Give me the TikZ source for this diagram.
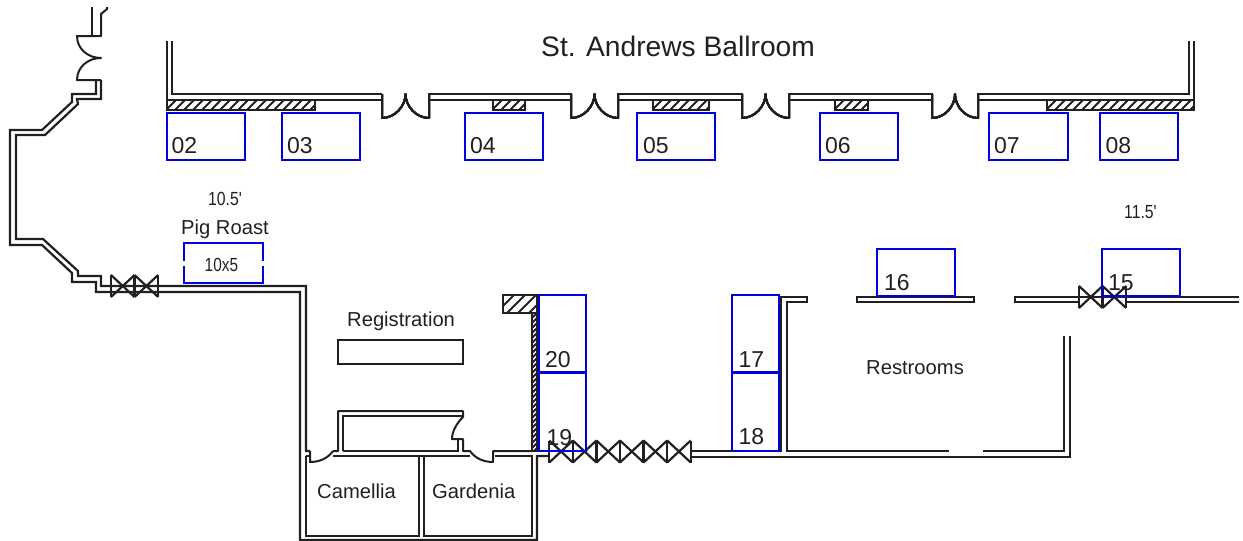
\documentclass[tikz,border=0pt]{standalone}
\usepackage{fontspec}
\setmainfont{Liberation Sans}
\definecolor{wallink}{HTML}{231F20}
\tikzset{
	wall/.style={draw=wallink,line width=2.2pt,line join=miter},
	door/.style={wall,line width=2pt,line join=round},
	booth/.style={draw=blue!90!black,line width=2.6pt},
	hatchline/.style={draw=wallink,line width=2pt},
	lbl/.style={anchor=base west,inner sep=0pt,text=wallink,font=\fontsize{20.2}{22}\selectfont},
	num/.style={lbl,font=\fontsize{23}{25}\selectfont},
	narrow/.style={lbl,font=\fontsize{19}{21}\selectfont}
}
% x1, y1, x2, y2, period of the hatching
\newcommand{\hatchrect}[5]{
	\begin{scope}
		\clip (#1,#2) rectangle (#3,#4);
		\foreach \d in {0,#5,...,200}
			\draw [hatchline] (#1+\d-#4+#2,#4) -- (#1+\d,#2);
	\end{scope}
	\draw [wall] (#1,#2) rectangle (#3,#4);
}
\begin{document}
\begin{tikzpicture}[x=1pt,y=-1pt]
	\useasboundingbox (0,0) rectangle (1243,541);
	% ballroom wall
	\draw [wall] (172,41) -- (172,94) -- (382,94);
	\draw [wall] (167,41) -- (167,100);
	\draw [wall] (315,100) -- (382,100);
	\draw [wall] (429,100) -- (429,94) -- (571,94) -- (571,100) -- cycle;
	\draw [wall] (618,100) -- (618,94) -- (742,94) -- (742,100) -- cycle;
	\draw [wall] (789,100) -- (789,94) -- (932,94) -- (932,100) -- cycle;
	\draw [wall] (978,100) -- (978,94) -- (1189,94) -- (1189,41);
	\draw [wall] (1194,41) -- (1194,100);
	\draw [wall] (978,100) -- (1047,100);
	\foreach \xa/\xb in {167/315,493/525,653/709,835/868,1047/1194}
		\hatchrect{\xa}{100}{\xb}{110}{9}
	% double doors
	\foreach \xa/\xb in {382/429,571/618,742/789,932/978} {
		\pgfmathsetmacro{\xm}{(\xa+\xb)/2}
		\draw [door] (\xa,94) -- (\xa,118) .. controls (\xa+13,118) and (\xm,106) .. (\xm,94)
			.. controls (\xm,106) and (\xb-13,118) .. (\xb,118) -- (\xb,94);
	}
	% west corridor
	\draw [wall] (92,7) -- (92,36);
	\draw [door] (107,7) -- (107,9) -- (101,14) -- (101,36) -- (77,36)
		.. controls (77,49) and (88,58) .. (101,58) .. controls (88,58) and (77,67) .. (77,80) -- (101,80);
	\draw [wall] (96,80) -- (96,94) -- (72,94) -- (72,102) -- (42,130) -- (10,130) -- (10,245) -- (42,245)
		-- (72,273) -- (72,282) -- (96,282) -- (96,292) -- (300,292) -- (300,540) -- (537,540) -- (537,456) -- (549,456);
	\draw [wall] (101,80) -- (101,99) -- (77,99) -- (78,104) -- (45,135) -- (16,135) -- (16,239) -- (43,239)
		-- (78,271) -- (78,276) -- (101,276) -- (101,286) -- (306,286) -- (306,451) -- (310,451);
	% rooms and doors on the south side
	\draw [wall] (306,456) -- (310,456);
	\draw [door] (310,451) -- (310,462) .. controls (320,462) and (328,458) .. (333,451);
	\draw [door] (333,451) -- (338,451) -- (338,411) -- (463,411) -- (463,417)
		.. controls (457,423) and (452,431) .. (452,439) -- (463,439) -- (463,451) -- (470,451)
		.. controls (475,458) and (483,462) .. (493,462) -- (493,451) -- (532,451);
	\draw [wall] (343,451) -- (343,416) -- (463,416);
	\draw [wall] (458,439) -- (458,451) -- (343,451);
	\draw [wall] (333,456) -- (470,456);
	\draw [wall] (306,456) -- (306,536) -- (419,536) -- (419,456);
	\draw [wall] (424,456) -- (424,536) -- (532,536) -- (532,456) -- (495,456);
	\draw [wall] (338,340) rectangle (463,364);
	% hatched column
	\hatchrect{503}{295}{537}{313}{11}
	\hatchrect{532}{313}{537}{451}{5}
	% restrooms
	\draw [wall] (690,451) -- (781,451) -- (781,297) -- (807,297) -- (807,302) -- (787,302) -- (787,451) -- (949,451);
	\draw [wall] (983,451) -- (1064,451) -- (1064,336);
	\draw [wall] (690,457) -- (1070,457) -- (1070,336);
	\draw [wall] (857,297) rectangle (974,302);
	\draw [wall] (1239,297) -- (1015,297) -- (1015,302) -- (1078,302);
	\draw [wall] (1126,302) -- (1239,302);
	% valves
	\foreach \xs/\ys/\cnt in {111/286/2,549.3/451.5/6,1079/297/2} {
		\foreach \k in {1,...,\cnt} {
			\draw [wall] (\xs+23.57*\k-23.57,\ys-11) -- (\xs+23.57*\k,\ys+11);
			\draw [wall] (\xs+23.57*\k-23.57,\ys+11) -- (\xs+23.57*\k,\ys-11);
			\draw [wall] (\xs+23.57*\k,\ys-11) -- (\xs+23.57*\k,\ys+11);
		}
		\draw [wall] (\xs,\ys-11) -- (\xs,\ys+11);
	}
	% booths
	\foreach \xa/\ya/\xb/\yb in {167/113/245/160,282/113/360/160,465/113/543/160,637/113/715/160,820/113/898/160,989/113/1068/160,1100/113/1178/160,877/249/955/296,1102/249/1180/296,732/295/779/372.5,732/372.5/779/451,539/295/586/372.5,539/372.5/586/451}
		\draw [booth] (\xa,\ya) rectangle (\xb,\yb);
	\foreach \xa/\yb/\tag in {171.5/153/02,287/153/03,470/153/04,643/153/05,825/153/06,994/153/07,1105.5/153/08,884/290/16,1108/290/15,738.5/367/17,738.5/444/18,545/367/20,546.5/445/19}
		\node [num] (booth\tag) at (\xa,\yb) {\tag};
	\draw [booth] (184,261) -- (184,243) -- (263,243) -- (263,261);
	\draw [booth] (184,266) -- (184,283) -- (263,283) -- (263,266);
	% labels
	\node [lbl,font=\fontsize{28.2}{30}\selectfont] (ballroom) at (541,56) {St. Andrews Ballroom};
	\node [lbl] (pigroast) at (181,234) {Pig Roast};
	\node [narrow] (pigsize) at (204.5,271) {\scalebox{.81}[1]{10x5}};
	\node [narrow] (westgap) at (208,205.5) {\scalebox{.83}[1]{10.5\textquotesingle}};
	\node [narrow] (eastgap) at (1124,218.5) {\scalebox{.83}[1]{11.5\textquotesingle}};
	\node [lbl] (registration) at (347,326.5) {Registration};
	\node [lbl] (camellia) at (317,498) {Camellia};
	\node [lbl] (gardenia) at (432,498) {Gardenia};
	\node [lbl] (restrooms) at (866,374) {Restrooms};
\end{tikzpicture}
\end{document}
